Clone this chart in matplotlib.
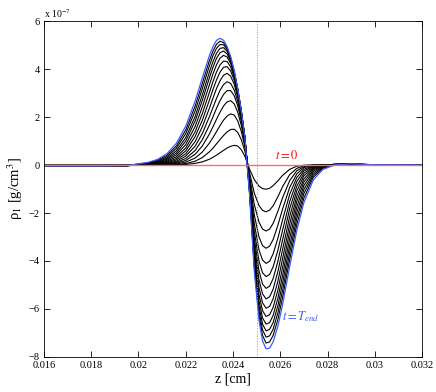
"""Density perturbation rho_1(z) at successive times, t=0 up to t=T_end."""
import matplotlib
matplotlib.use("Agg")
import matplotlib.pyplot as plt
import numpy as np

# ---- data ----
# z positions [cm]
z_cm = [0.016, 0.0185, 0.0195, 0.0200, 0.0204, 0.0208, 0.0212, 0.0216, 0.0220, 0.0224, 0.0227,
        0.0230, 0.02315, 0.0233, 0.02345, 0.0236, 0.02375, 0.0239, 0.02405, 0.0242, 0.02435,
        0.0245, 0.0247, 0.0249, 0.0251,
        0.02525, 0.0254, 0.02555, 0.0257, 0.0259,
        0.0261, 0.0264, 0.0267, 0.0270, 0.0274, 0.0278, 0.0283, 0.0290, 0.0300, 0.0320]

# rho_1 in units of 1e-9 g/cm^3, one profile per output time
rho_t01 = [-1, -1, -1, 0, 0, 0, 0, 1, 2, 7, 13, 24, 32, 41, 51, 61, 71, 78, 82, 79, 64, 37, -17, -61, -88, -98, -101, -97, -86, -66, -43, -18, -5, -1, 0, 0, 0, 1, 0, 0]
rho_t02 = [-1, -1, -1, 0, 0, 0, 1, 2, 6, 16, 31, 55, 70, 88, 106, 123, 138, 148, 149, 136, 106, 59, -32, -117, -169, -189, -195, -188, -170, -132, -90, -40, -14, -3, 0, 0, 1, 1, 0, 0]
rho_t03 = [-1, -1, -1, 0, 0, 0, 1, 4, 12, 29, 54, 91, 114, 139, 164, 187, 204, 213, 208, 184, 140, 77, -45, -164, -238, -267, -275, -267, -243, -193, -136, -65, -24, -7, -1, 0, 1, 2, 0, 0]
rho_t04 = [-2, -2, -2, 0, 0, 1, 3, 7, 19, 45, 79, 129, 159, 190, 220, 246, 263, 268, 255, 220, 166, 90, -57, -207, -300, -336, -347, -338, -310, -251, -183, -93, -37, -11, -1, 1, 2, 2, 0, 0]
rho_t05 = [-2, -2, -2, 0, 0, 1, 4, 11, 27, 61, 105, 166, 200, 236, 268, 294, 310, 310, 289, 247, 183, 99, -67, -243, -354, -396, -410, -401, -370, -305, -228, -122, -52, -18, -3, 0, 2, 3, 0, 0]
rho_t06 = [-2, -2, -2, 0, 1, 2, 6, 15, 37, 79, 131, 201, 239, 277, 311, 335, 347, 340, 313, 264, 195, 104, -75, -275, -400, -449, -465, -456, -424, -355, -271, -152, -69, -25, -5, 0, 2, 3, 1, 0]
rho_t07 = [-3, -3, -3, 0, 1, 3, 8, 21, 47, 98, 159, 236, 278, 318, 351, 374, 382, 370, 337, 282, 207, 110, -83, -303, -441, -496, -514, -505, -473, -401, -312, -182, -88, -35, -7, 0, 2, 3, 1, 0]
rho_t08 = [-3, -3, -3, 1, 2, 5, 11, 27, 59, 119, 186, 270, 314, 354, 387, 407, 410, 392, 354, 295, 214, 113, -90, -328, -478, -537, -558, -549, -517, -444, -352, -214, -108, -45, -11, -1, 3, 3, 1, 0]
rho_t09 = [-3, -3, -3, 1, 2, 6, 15, 34, 71, 139, 214, 302, 347, 387, 417, 433, 431, 409, 366, 303, 219, 115, -95, -349, -510, -574, -597, -589, -557, -484, -390, -245, -130, -58, -15, -2, 3, 4, 1, 0]
rho_t10 = [-3, -3, -3, 1, 3, 8, 19, 42, 85, 161, 242, 334, 379, 417, 445, 457, 450, 423, 376, 309, 223, 117, -101, -369, -539, -607, -631, -624, -593, -521, -426, -275, -152, -71, -20, -3, 3, 4, 1, 0]
rho_t11 = [-3, -3, -3, 2, 4, 10, 24, 50, 100, 184, 269, 363, 407, 444, 468, 475, 463, 432, 382, 312, 224, 117, -105, -386, -565, -637, -663, -657, -626, -555, -460, -306, -175, -86, -26, -5, 2, 4, 1, 0]
rho_t12 = [-4, -4, -3, 2, 6, 13, 28, 59, 114, 203, 292, 387, 430, 465, 486, 489, 474, 439, 387, 316, 226, 118, -109, -401, -587, -663, -691, -685, -656, -586, -491, -336, -199, -102, -34, -7, 2, 4, 1, 0]
rho_t13 = [-4, -4, -3, 3, 7, 16, 34, 69, 131, 226, 318, 413, 455, 486, 502, 501, 481, 444, 389, 316, 225, 117, -113, -414, -608, -687, -717, -712, -684, -615, -522, -365, -223, -119, -42, -10, 2, 4, 1, 0]
rho_t14 = [-4, -4, -2, 4, 9, 20, 40, 79, 146, 246, 340, 435, 474, 503, 516, 510, 488, 448, 391, 317, 226, 117, -116, -427, -627, -710, -742, -737, -710, -644, -551, -394, -248, -138, -51, -14, 1, 4, 1, 0]
rho_end = [-4, -4, -2, 5, 11, 23, 47, 90, 162, 267, 363, 456, 493, 519, 528, 520, 494, 452, 394, 318, 226, 117, -120, -440, -647, -733, -766, -763, -737, -672, -581, -423, -273, -157, -62, -19, 0, 5, 1, 0]

# initial state is flat
z_init = [0.016, 0.032]
rho_init = [0, 0]

profiles = [rho_t01, rho_t02, rho_t03, rho_t04, rho_t05, rho_t06, rho_t07,
            rho_t08, rho_t09, rho_t10, rho_t11, rho_t12, rho_t13, rho_t14]

x_ticks = [0.016, 0.018, 0.020, 0.022, 0.024, 0.026, 0.028, 0.030, 0.032]
x_tick_labels = ["0.016", "0.018", "0.02", "0.022", "0.024", "0.026", "0.028", "0.03", "0.032"]
y_ticks = [-8, -6, -4, -2, 0, 2, 4, 6]
z_interface = 0.025

# ---- style ----
plt.rcParams["font.family"] = ["Liberation Serif", "DejaVu Serif"]
plt.rcParams["mathtext.fontset"] = "stix"
BLUE = "#3a5cff"

fig = plt.figure(figsize=(4.36, 3.92), dpi=100)
ax = fig.add_axes([0.1009, 0.0893, 0.8670, 0.8571])

# axis is in units of 1e-7, data in 1e-9
for rho in profiles:
    ax.plot(z_cm, np.array(rho) / 100.0, color="black", lw=0.8)
ax.plot(z_cm, np.array(rho_end) / 100.0, color=BLUE, lw=0.9)
ax.plot(z_init, rho_init, color="#ff6b6b", lw=1.0)
ax.axvline(z_interface, color="#999999", ls=":", lw=0.7)

ax.set_xlim(0.016, 0.032)
ax.set_ylim(-8, 6)
ax.set_xticks(x_ticks)
ax.set_xticklabels(x_tick_labels)
ax.set_yticks(y_ticks)
ax.tick_params(direction="in", length=4, width=0.6, labelsize=7.5,
               top=True, right=True, pad=3)
for sp in ax.spines.values():
    sp.set_linewidth(0.6)

ax.set_xlabel("z [cm]", fontsize=10, labelpad=2)
ax.set_ylabel(r"ρ$_1$ [g/cm$^3$]", fontsize=10.5, labelpad=3)
ax.text(0.02578, 0.25, r"$\mathit{t=0}$", color="red", fontsize=9)
ax.text(0.02606, -6.45, r"$\mathit{t=T_{end}}$", color=BLUE, fontsize=9)
fig.text(0.1009, 0.954, r"x 10$^{-7}$", fontsize=7)

fig.savefig("out.png", dpi=100)
